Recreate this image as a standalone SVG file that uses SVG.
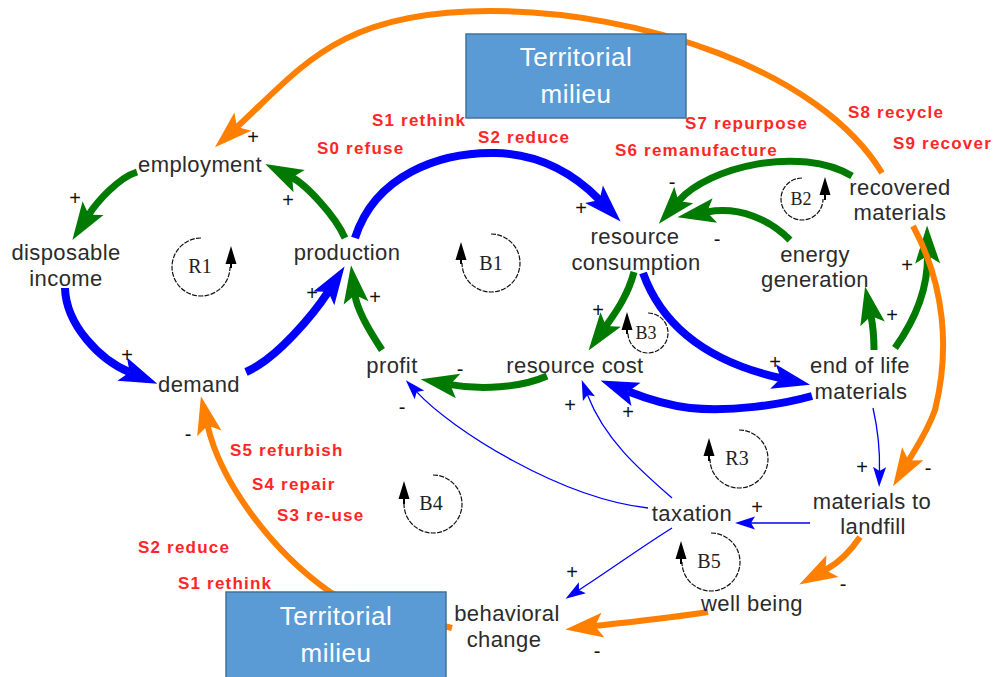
<svg xmlns="http://www.w3.org/2000/svg" width="995" height="677" viewBox="0 0 995 677">
  <style>
    .lbl { font-family: "Liberation Sans", Arial, sans-serif; font-size: 22px; fill: #2b2b2b; letter-spacing: 0.4px; text-anchor: middle; }
    .strat { font-family: "Liberation Sans", Arial, sans-serif; font-weight: bold; font-size: 17px; fill: #ff2626; letter-spacing: 1.2px; }
    .sign { font-family: "Liberation Sans", Arial, sans-serif; font-size: 20px; fill: #111; text-anchor: middle; }
    .box rect { fill: #5b9bd5; stroke: #41719c; stroke-width: 1.5; }
    .box text { font-family: "Liberation Sans", Arial, sans-serif; font-size: 26px; fill: #ffffff; text-anchor: middle; letter-spacing: 0.5px; }
    .loop path.arc { fill: none; stroke: #111; stroke-width: 1.2; stroke-dasharray: 5 1.3; }
    .loop path.head { fill: #000; }
    .loop text { font-family: "Liberation Serif", "Times New Roman", serif; font-size: 20px; fill: #222; text-anchor: middle; }
    .c { fill: none; }
    .blue { stroke: #0000ff; stroke-width: 8; marker-end: url(#hBlue); }
    .green { stroke: #007a00; stroke-width: 7; marker-end: url(#hGreen); }
    .orange { stroke: #ff8000; stroke-width: 6; marker-end: url(#hOrange); }
    .thin { stroke: #0000ff; stroke-width: 1.3; marker-end: url(#hThin); }
  </style>
  <defs>
    <marker id="hBlue" markerUnits="userSpaceOnUse" orient="auto" markerWidth="40" markerHeight="40" overflow="visible" style="overflow:visible">
      <path d="M-8,-12.5 L30,0 L-8,12.5 L0,0 Z" fill="#0000ff"/>
    </marker>
    <marker id="hGreen" markerUnits="userSpaceOnUse" orient="auto" markerWidth="40" markerHeight="40" overflow="visible" style="overflow:visible">
      <path d="M-8,-12.5 L30,0 L-8,12.5 L0,0 Z" fill="#007a00"/>
    </marker>
    <marker id="hOrange" markerUnits="userSpaceOnUse" orient="auto" markerWidth="40" markerHeight="40" overflow="visible" style="overflow:visible">
      <path d="M-8,-12.5 L30,0 L-8,12.5 L0,0 Z" fill="#ff8000"/>
    </marker>
    <marker id="hThin" markerUnits="userSpaceOnUse" orient="auto" markerWidth="20" markerHeight="20" overflow="visible" style="overflow:visible">
      <path d="M-4,-6.5 L16,0 L-4,6.5 L0,0 Z" fill="#0000ff"/>
    </marker>
  </defs>

  <rect width="995" height="677" fill="#ffffff"/>

  <!-- causal links -->
  <g id="connectors">
    <!-- recovered materials -> employment (long outer arc) -->
    <path class="c orange" d="M882,173 C820,70 640,11 490,11 C340,11 303,66 237,127"/>
    <!-- employment -> disposable income -->
    <path class="c green" d="M137,172 C118,178 97,202 88.7,214.8"/>
    <!-- production -> employment -->
    <path class="c green" d="M345,238 C335,215 305,184 292,177.5"/>
    <!-- disposable income -> demand -->
    <path class="c blue" d="M65,288 C66,325 100,360 129.6,372.2"/>
    <!-- demand -> production -->
    <path class="c blue" d="M246,372 C278,358 315,312 328.2,291.7"/>
    <!-- profit -> production -->
    <path class="c green" d="M382,350 C370,332 357,310 355,295"/>
    <!-- production -> resource consumption -->
    <path class="c blue" d="M355,238 C375,175 440,152 495,153 C540,154 575,175 599.6,200"/>
    <!-- recovered materials -> resource consumption -->
    <path class="c green" d="M852,176 C800,145 708,167 678.5,201"/>
    <!-- energy generation -> resource consumption -->
    <path class="c green" d="M790,240 C770,220 740,206 707,212"/>
    <!-- resource consumption -> resource cost -->
    <path class="c green" d="M634,272 C628,295 616,312 606,326"/>
    <!-- resource consumption -> end of life materials -->
    <path class="c blue" d="M643,273 C660,320 700,360 780.8,378.2"/>
    <!-- end of life materials -> resource cost -->
    <path class="c blue" d="M812,396 C780,405 730,412 690,408 C665,405 645,398 628.5,391.5"/>
    <!-- resource cost -> profit -->
    <path class="c green" d="M547,376 C520,388 480,390 450.2,384.6"/>
    <!-- end of life materials -> energy generation -->
    <path class="c green" d="M874,350 C874,338 873,326 871,316"/>
    <!-- end of life materials -> recovered materials -->
    <path class="c green" d="M895,348 C915,320 928,290 927.5,255.5"/>
    <!-- recovered materials -> materials to landfill -->
    <path class="c orange" d="M913,226 C945,285 950,350 935,410 C928,430 918,445 908.6,460.5"/>
    <!-- end of life materials -> materials to landfill -->
    <path class="c thin" d="M873,408 C878,430 880,450 879.5,471"/>
    <!-- materials to landfill -> taxation -->
    <path class="c thin" d="M810,523 L751,523"/>
    <!-- materials to landfill -> well being -->
    <path class="c orange" d="M860,537 C850,552 840,562 825.5,570"/>
    <!-- taxation -> profit -->
    <path class="c thin" d="M648,508 C560,498 452,430 416.7,391.9"/>
    <!-- taxation -> resource cost -->
    <path class="c thin" d="M672,498 C640,470 605,440 587.5,395"/>
    <!-- taxation -> behavioral change -->
    <path class="c thin" d="M672,528 C640,548 610,570 579,590"/>
    <!-- well being -> behavioral change -->
    <path class="c orange" d="M708,612 C670,618 630,622 595,626"/>
    <!-- behavioral change -> demand (runs beneath the milieu box) -->
    <path class="c orange" d="M452,628 C400,614 355,606 330,592 C270,550 220,480 207.6,425.6"/>
  </g>

  <!-- polarity signs -->
  <g id="signs">
    <text class="sign" x="75" y="205">+</text>
    <text class="sign" x="253" y="144">+</text>
    <text class="sign" x="288" y="207">+</text>
    <text class="sign" x="127" y="362">+</text>
    <text class="sign" x="312" y="300">+</text>
    <text class="sign" x="375" y="304">+</text>
    <text class="sign" x="581" y="215">+</text>
    <text class="sign" x="672" y="189">-</text>
    <text class="sign" x="717" y="246">-</text>
    <text class="sign" x="598" y="317">+</text>
    <text class="sign" x="775" y="369">+</text>
    <text class="sign" x="628" y="419">+</text>
    <text class="sign" x="460" y="376">-</text>
    <text class="sign" x="892" y="322">+</text>
    <text class="sign" x="907" y="272">+</text>
    <text class="sign" x="928" y="475">-</text>
    <text class="sign" x="862" y="474">+</text>
    <text class="sign" x="757" y="514">+</text>
    <text class="sign" x="843" y="591">-</text>
    <text class="sign" x="402" y="414">-</text>
    <text class="sign" x="570" y="412">+</text>
    <text class="sign" x="572" y="579">+</text>
    <text class="sign" x="597" y="658">-</text>
    <text class="sign" x="188" y="441">-</text>
  </g>

  <!-- loop identifiers -->
  <g id="loops" class="loop">
    <g id="loop-R1">
      <path class="arc" d="M201,238 A29,29 0 1 0 230,267"/>
      <path class="head" d="M231,246 L225.5,264 L230,264 L230,268 L232,268 L232,264 L236.5,264 Z"/>
      <text x="200" y="273">R1</text>
    </g>
    <g id="loop-B1">
      <path class="arc" d="M491,234 A29,29 0 1 1 462,263"/>
      <path class="head" d="M461,242 L455.5,260 L460,260 L460,264 L462,264 L462,260 L466.5,260 Z"/>
      <text x="491" y="270">B1</text>
    </g>
    <g id="loop-B2">
      <path class="arc" d="M802,178 A21,21 0 1 0 823,199"/>
      <path class="head" d="M825,177 L819.5,195 L824,195 L824,200 L826,200 L826,195 L830.5,195 Z"/>
      <text x="801" y="205" style="font-size:18px">B2</text>
    </g>
    <g id="loop-B3">
      <path class="arc" d="M648,313 A20,20 0 1 1 628,333"/>
      <path class="head" d="M627,312 L621.5,330 L626,330 L626,334 L628,334 L628,330 L632.5,330 Z"/>
      <text x="646" y="339" style="font-size:18px">B3</text>
    </g>
    <g id="loop-B4">
      <path class="arc" d="M433,475 A29,29 0 1 1 404,504"/>
      <path class="head" d="M404,481 L398.5,499 L403,499 L403,504 L405,504 L405,499 L409.5,499 Z"/>
      <text x="431" y="510">B4</text>
    </g>
    <g id="loop-R3">
      <path class="arc" d="M739,430 A29,29 0 1 1 710,459"/>
      <path class="head" d="M709,438 L703.5,456 L708,456 L708,461 L710,461 L710,456 L714.5,456 Z"/>
      <text x="737" y="465">R3</text>
    </g>
    <g id="loop-B5">
      <path class="arc" d="M711,533 A29,29 0 1 1 682,562"/>
      <path class="head" d="M681,541 L675.5,559 L680,559 L680,564 L682,564 L682,559 L686.5,559 Z"/>
      <text x="709" y="568">B5</text>
    </g>
  </g>

  <!-- territorial milieu boxes -->
  <g id="milieu-top" class="box">
    <rect x="466" y="34" width="220" height="84"/>
    <text x="576" y="66">Territorial</text>
    <text x="576" y="103">milieu</text>
  </g>
  <g id="milieu-bottom" class="box">
    <rect x="226" y="592" width="220" height="100"/>
    <text x="336" y="625">Territorial</text>
    <text x="336" y="662">milieu</text>
  </g>

  <!-- variables -->
  <g id="employment"><text class="lbl" x="200" y="172">employment</text></g>
  <g id="disposable-income"><text class="lbl" x="66" y="260">disposable</text><text class="lbl" x="66" y="286">income</text></g>
  <g id="production"><text class="lbl" x="347" y="260">production</text></g>
  <g id="demand"><text class="lbl" x="199" y="392">demand</text></g>
  <g id="profit"><text class="lbl" x="392" y="373">profit</text></g>
  <g id="resource-consumption"><text class="lbl" x="635" y="244">resource</text><text class="lbl" x="636" y="270">consumption</text></g>
  <g id="resource-cost"><text class="lbl" x="575" y="373">resource cost</text></g>
  <g id="energy-generation"><text class="lbl" x="815" y="262">energy</text><text class="lbl" x="815" y="287">generation</text></g>
  <g id="recovered-materials"><text class="lbl" x="900" y="195">recovered</text><text class="lbl" x="900" y="220">materials</text></g>
  <g id="end-of-life-materials"><text class="lbl" x="860" y="373">end of life</text><text class="lbl" x="861" y="399">materials</text></g>
  <g id="materials-to-landfill"><text class="lbl" x="872" y="509">materials to</text><text class="lbl" x="873" y="534">landfill</text></g>
  <g id="taxation"><text class="lbl" x="692" y="521">taxation</text></g>
  <g id="well-being"><text class="lbl" x="752" y="611">well being</text></g>
  <g id="behavioral-change"><text class="lbl" x="507" y="621">behavioral</text><text class="lbl" x="504" y="647">change</text></g>

  <!-- circular strategies -->
  <g id="strategies">
    <text class="strat" x="372" y="126">S1 rethink</text>
    <text class="strat" x="317" y="154">S0 refuse</text>
    <text class="strat" x="478" y="143">S2 reduce</text>
    <text class="strat" x="685" y="129">S7 repurpose</text>
    <text class="strat" x="615" y="156">S6 remanufacture</text>
    <text class="strat" x="848" y="118">S8 recycle</text>
    <text class="strat" x="893" y="149">S9 recover</text>
    <text class="strat" x="230" y="456">S5 refurbish</text>
    <text class="strat" x="252" y="490">S4 repair</text>
    <text class="strat" x="277" y="521">S3 re-use</text>
    <text class="strat" x="138" y="553">S2 reduce</text>
    <text class="strat" x="178" y="589">S1 rethink</text>
  </g>
</svg>
